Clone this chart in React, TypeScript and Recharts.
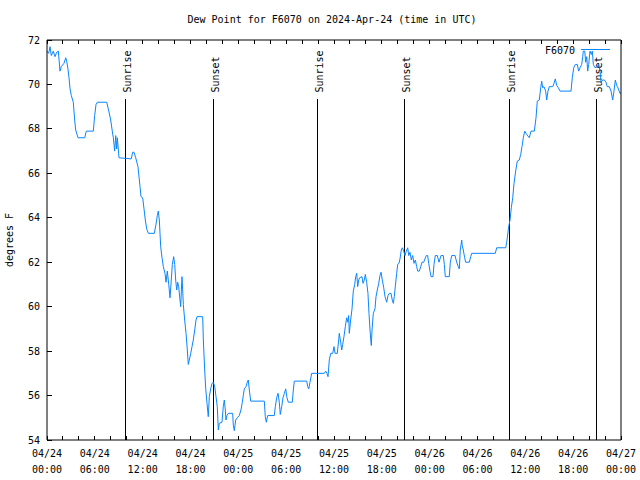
import React from 'react';
import { LineChart, Line, XAxis, YAxis, ReferenceLine, Legend } from 'recharts';

const FONT = '"DejaVu Sans Mono", monospace';
const BLUE = '#0a85ff';

// dew point, [hours since 04/24 00:00 UTC, deg F]
const apr24: [number, number][] = [
  [0.0, 71.5], [0.21, 71.4], [0.38, 71.7], [0.54, 71.3], [0.79, 71.5], [1.0, 71.25], [1.22, 71.45], [1.42, 71.5],
  [1.63, 70.6], [1.79, 70.8], [2.13, 70.95], [2.35, 71.2], [2.47, 71.05], [2.63, 70.7], [2.76, 70.3], [2.89, 69.8],
  [3.05, 69.5], [3.3, 69.2], [3.47, 68.4], [3.6, 67.95], [3.89, 67.6], [4.73, 67.6], [4.93, 67.9], [5.81, 67.9],
  [5.98, 68.6], [6.15, 69.1], [6.31, 69.2], [7.49, 69.2], [7.69, 68.9], [7.99, 68.4], [8.19, 67.9], [8.32, 67.6],
  [8.49, 67.0], [8.62, 67.7], [8.74, 67.1], [8.82, 67.6], [9.03, 66.7], [10.57, 66.65], [10.75, 66.95], [10.91, 66.95],
  [11.13, 66.7], [11.41, 66.3], [11.67, 65.4], [11.79, 64.95], [12.0, 64.9], [12.17, 64.4], [12.33, 63.9], [12.51, 63.5],
  [12.71, 63.3], [13.46, 63.3], [13.67, 63.7], [13.84, 64.1], [13.96, 64.3], [14.09, 63.9], [14.26, 62.7], [14.43, 62.2],
  [14.59, 61.8], [14.8, 61.5], [14.93, 61.1], [15.09, 61.6], [15.27, 61.0], [15.43, 60.4], [15.59, 61.2], [15.72, 61.9],
  [15.89, 62.25], [16.02, 61.9], [16.14, 61.2], [16.27, 60.75], [16.39, 61.1], [16.52, 60.9], [16.65, 60.4], [16.77, 60.0],
  [16.93, 61.35], [17.02, 60.75], [17.1, 60.1], [17.27, 59.4], [17.44, 58.8], [17.6, 58.05], [17.72, 57.4], [17.85, 57.6],
  [18.03, 57.9], [18.19, 58.2], [18.35, 58.5], [18.53, 58.95], [18.69, 59.4], [18.82, 59.55], [19.53, 59.55], [19.61, 58.5],
  [19.78, 57.15], [19.91, 56.3], [20.07, 55.65], [20.23, 55.05], [20.36, 55.95], [20.53, 56.3], [20.7, 56.55], [20.86, 56.6],
  [21.04, 56.4], [21.2, 55.95], [21.36, 55.5], [21.49, 54.45], [21.61, 54.75], [21.95, 54.8], [22.11, 55.5], [22.24, 55.8],
  [22.37, 55.35], [22.45, 54.9], [22.58, 55.1], [22.74, 55.2], [23.29, 55.2], [23.37, 54.67], [23.49, 54.42], [23.67, 54.9],
  [23.87, 55.0],
];

const apr25: [number, number][] = [
  [24.12, 55.1], [24.33, 55.35], [24.5, 55.7], [24.62, 56.0], [24.75, 56.3], [24.96, 56.4], [25.12, 56.6], [25.25, 56.7],
  [25.38, 56.25], [25.55, 55.75], [27.26, 55.75], [27.38, 55.05], [27.51, 54.8], [27.68, 55.1], [28.51, 55.1], [28.64, 55.5],
  [28.81, 55.9], [28.98, 56.1], [29.14, 55.7], [29.26, 55.15], [29.44, 55.5], [29.6, 55.9], [29.77, 56.1], [29.94, 56.3],
  [30.1, 55.9], [30.27, 55.7], [30.77, 55.7], [30.9, 56.25], [31.02, 56.65], [32.58, 56.65], [32.7, 56.4], [32.83, 56.3],
  [32.99, 56.6], [33.2, 57.0], [34.78, 57.0], [34.96, 57.1], [35.12, 57.0], [35.25, 56.85], [35.41, 57.6], [35.59, 57.9],
  [35.84, 57.9], [36.0, 58.2], [36.13, 57.9], [36.41, 57.9], [36.59, 58.5], [36.66, 58.8], [36.84, 58.4], [36.97, 58.05],
  [37.09, 58.3], [37.25, 58.65], [37.42, 59.1], [37.59, 59.5], [37.72, 59.3], [37.84, 59.6], [37.92, 58.8], [38.09, 59.4],
  [38.26, 59.9], [38.42, 60.7], [38.6, 61.0], [38.72, 61.35], [38.85, 61.5], [38.97, 60.9], [39.1, 61.2], [39.22, 61.3],
  [39.51, 61.35], [39.64, 61.05], [39.8, 61.2], [39.93, 61.45], [40.1, 61.1], [40.26, 60.6], [40.39, 59.7], [40.52, 58.95],
  [40.6, 58.55], [40.68, 58.25], [40.77, 58.95], [40.93, 59.7], [41.14, 59.9], [41.27, 60.45], [41.43, 60.75], [41.61, 61.05],
  [41.77, 61.4], [41.9, 61.55], [42.06, 61.2], [42.24, 60.85], [42.4, 60.45], [42.61, 60.2], [42.77, 60.5], [42.94, 60.6],
  [43.15, 60.6], [43.31, 60.3], [43.44, 60.15], [43.56, 60.45], [43.69, 60.9], [43.86, 61.5], [43.99, 61.9], [44.15, 61.95],
  [44.28, 62.15], [44.44, 62.55], [44.57, 62.65], [44.74, 62.5], [44.91, 62.3], [45.07, 62.5], [45.25, 62.65], [45.37, 62.3],
  [45.53, 62.45], [45.7, 62.1], [45.87, 62.3], [46.04, 61.95], [46.2, 62.1], [46.37, 61.8], [46.5, 61.6], [46.7, 61.6],
  [46.88, 61.8], [47.04, 62.0], [47.25, 62.0], [47.41, 62.15], [47.58, 62.3], [47.75, 62.3], [47.88, 61.95],
];

const apr26: [number, number][] = [
  [48.04, 61.6], [48.17, 61.35], [48.42, 61.35], [48.54, 61.9], [48.71, 62.3], [48.96, 62.3], [49.17, 62.0], [49.42, 62.3],
  [49.71, 62.3], [49.84, 61.9], [49.96, 61.35], [50.46, 61.35], [50.59, 62.0], [50.77, 62.3], [51.18, 62.3], [51.39, 62.0],
  [51.59, 61.8], [51.72, 61.7], [51.84, 62.55], [52.02, 63.0], [52.09, 62.75], [52.22, 62.55], [52.39, 62.2], [52.52, 62.0],
  [52.97, 62.0], [53.15, 62.25], [53.27, 62.4], [56.23, 62.4], [56.41, 62.65], [57.54, 62.65], [57.66, 62.9], [57.74, 63.1],
  [57.91, 63.6], [58.08, 63.9], [58.24, 64.45], [58.42, 64.9], [58.58, 65.55], [58.79, 66.1], [58.99, 66.55], [59.24, 66.6],
  [59.42, 66.85], [59.58, 67.2], [59.75, 67.6], [59.92, 67.9], [60.17, 67.75], [60.5, 67.6], [60.71, 67.9], [61.13, 67.9],
  [61.34, 68.5], [61.5, 69.25], [61.75, 69.3], [61.93, 69.85], [62.05, 70.15], [62.18, 69.85], [62.34, 69.9], [62.55, 69.7],
  [62.68, 69.3], [62.84, 69.7], [63.01, 69.9], [63.43, 69.9], [63.6, 70.05], [63.76, 70.25], [63.94, 69.95], [64.14, 69.85],
  [64.35, 69.7], [65.73, 69.7], [65.89, 70.3], [66.07, 70.75], [66.27, 70.9], [66.52, 70.9], [66.69, 70.6], [66.86, 70.75],
  [67.07, 70.9], [67.2, 71.25], [67.27, 71.5], [67.45, 71.5], [67.57, 71.0], [67.7, 71.25], [67.82, 70.6], [67.95, 70.9],
  [68.11, 71.5], [68.28, 71.35], [68.4, 71.5], [68.53, 70.9], [68.74, 70.75], [69.03, 70.8], [69.2, 70.9], [69.37, 70.6],
  [69.49, 70.1], [69.7, 70.2], [69.91, 70.2], [70.12, 70.1], [70.28, 69.9], [70.53, 69.9], [70.75, 69.7], [70.96, 69.3],
  [71.12, 69.7], [71.29, 70.2], [71.46, 69.95], [71.62, 69.85], [71.87, 69.6], [72.0, 69.6],
];

const sunTimes = [9.82, 20.86, 33.91, 44.82, 57.99, 68.95];
const sunLabels = ['Sunrise', 'Sunset', 'Sunrise', 'Sunset', 'Sunrise', 'Sunset'];

const xTicks = [0, 2, 4, 6, 8, 10, 12, 14, 16, 18, 20, 22, 24, 26, 28, 30, 32, 34, 36, 38, 40, 42, 44, 46, 48,
  50, 52, 54, 56, 58, 60, 62, 64, 66, 68, 70, 72];
const tickDates = ['04/24', '04/24', '04/24', '04/24', '04/25', '04/25', '04/25', '04/25', '04/26', '04/26', '04/26', '04/26', '04/27'];
const tickTimes = ['00:00', '06:00', '12:00', '18:00', '00:00', '06:00', '12:00', '18:00', '00:00', '06:00', '12:00', '18:00', '00:00'];
const yTicks = [54, 56, 58, 60, 62, 64, 66, 68, 70, 72];

const data = [...apr24, ...apr25, ...apr26].map(([t, dew]) => ({ t, dew }));

const txt = { fontFamily: FONT, fontSize: 10, fill: '#000' };

const BottomTick = ({ x, y, payload }: any) => {
  const i = payload.value / 6;
  const major = Number.isInteger(i);
  return (
    <g>
      <line x1={x} x2={x} y1={y} y2={y - 4} stroke="#000" shapeRendering="crispEdges" />
      {major && (
        <>
          <text x={x} y={y + 13} textAnchor="middle" dominantBaseline="central" {...txt}>{tickDates[i]}</text>
          <text x={x} y={y + 29} textAnchor="middle" dominantBaseline="central" {...txt}>{tickTimes[i]}</text>
        </>
      )}
    </g>
  );
};

const TopTick = ({ x, y }: any) => (
  <line x1={x} x2={x} y1={y} y2={y + 4} stroke="#000" shapeRendering="crispEdges" />
);

const LeftTick = ({ x, y, payload }: any) => (
  <g>
    <line x1={x} x2={x + 5} y1={y} y2={y} stroke="#000" shapeRendering="crispEdges" />
    <text x={x - 7} y={y} textAnchor="end" dominantBaseline="central" {...txt}>{payload.value}</text>
  </g>
);

const RightTick = ({ x, y }: any) => (
  <line x1={x} x2={x - 5} y1={y} y2={y} stroke="#000" shapeRendering="crispEdges" />
);

const sunShape = (label: string) => (p: any) => {
  const x = p.x1;
  const top = Math.min(p.y1, p.y2);
  const bottom = Math.max(p.y1, p.y2);
  return (
    <g>
      <line x1={x} x2={x} y1={top + 59} y2={bottom} stroke="#000" shapeRendering="crispEdges" />
      <text transform={`translate(${x + 5.5},${top + 52.5}) rotate(-90)`} {...txt}>{label}</text>
    </g>
  );
};

const legendContent = (props: any) => (
  <svg width={80} height={14} style={{ display: 'block' }}>
    <text x={35} y={7} textAnchor="end" dominantBaseline="central" {...txt}>
      {props.payload?.[0]?.value ?? 'F6070'}
    </text>
    <line x1={41} x2={70} y1={6.5} y2={6.5} stroke={BLUE} />
  </svg>
);

const yLabel = ({ viewBox }: any) => (
  <text
    transform={`translate(${viewBox.x + 13},${viewBox.y + viewBox.height / 2}) rotate(-90)`}
    textAnchor="middle"
    {...txt}
  >
    degrees F
  </text>
);

export default function App() {
  return (
    <div style={{ position: 'absolute', left: 0, top: 0, width: 640, height: 480, background: '#fff' }}>
      <div
        style={{
          position: 'absolute', left: 0, top: 14, width: 664, textAlign: 'center',
          fontFamily: FONT, fontSize: 10, lineHeight: '12px', color: '#000', zIndex: 1,
        }}
      >
        Dew Point for F6070 on 2024-Apr-24 (time in UTC)
      </div>
      <LineChart width={640} height={480} data={data} margin={{ top: 39, right: 18, bottom: 0, left: 0 }}>
        <XAxis
          dataKey="t" type="number" domain={[0, 72]} ticks={xTicks} interval={0} height={40}
          tickLine={false} tickSize={0} tickMargin={0} axisLine={{ stroke: '#000' }} tick={BottomTick}
        />
        <XAxis
          xAxisId="top" orientation="top" dataKey="t" type="number" domain={[0, 72]} ticks={xTicks} interval={0}
          height={1} tickLine={false} tickSize={0} tickMargin={0} axisLine={{ stroke: '#000' }} tick={TopTick}
        />
        <YAxis
          domain={[54, 72]} ticks={yTicks} interval={0} width={47} tickLine={false} tickSize={0} tickMargin={0}
          axisLine={{ stroke: '#000' }} tick={LeftTick} label={{ content: yLabel }}
        />
        <YAxis
          yAxisId="right" orientation="right" domain={[54, 72]} ticks={yTicks} interval={0} width={1}
          tickLine={false} tickSize={0} tickMargin={0} axisLine={{ stroke: '#000' }} tick={RightTick}
        />
        {sunTimes.map((t, i) => (
          <ReferenceLine key={i} x={t} stroke="#000" shape={sunShape(sunLabels[i])} />
        ))}
        <Line
          type="linear" dataKey="dew" name="F6070" stroke={BLUE} strokeWidth={1} dot={false}
          activeDot={false} isAnimationActive={false}
        />
        <Legend
          layout="horizontal" verticalAlign="middle" align="center" content={legendContent}
          wrapperStyle={{ left: 540, top: 43, width: 80, height: 14 }}
        />
      </LineChart>
    </div>
  );
}
